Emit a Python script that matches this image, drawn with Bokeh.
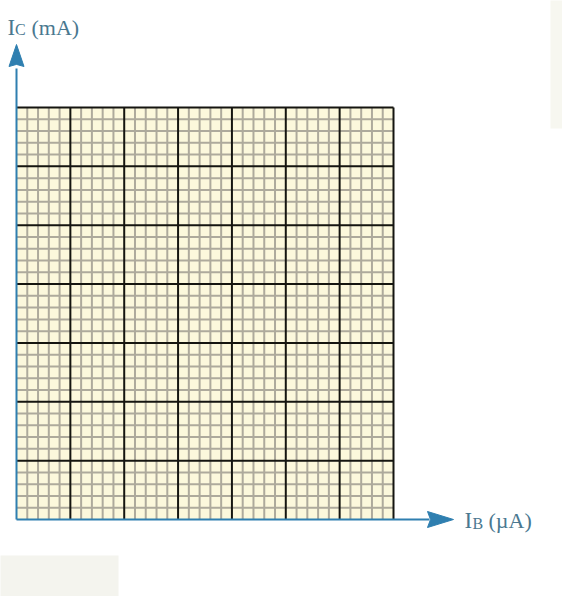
from bokeh.plotting import figure
from bokeh.models import Range1d
from bokeh.core.properties import value
from bokeh.embed import file_html
from bokeh.resources import INLINE

# ---- data: graph-paper grid (major divisions and minor subdivisions) ----
x_major = [0, 1, 2, 3, 4, 5, 6, 7]
y_major = [0, 1, 2, 3, 4, 5, 6, 7]
minor_per_major = 5
x_label_main = "I"
x_label_sub = "B"
x_label_unit = "(µA)"
y_label_main = "I"
y_label_sub = "C"
y_label_unit = "(mA)"

# ---- layout ----
FIG_W, FIG_H = 562, 596
MARGIN = 8
GL, GR, GT, GB = 16, 393, 107, 519        # grid box in figure pixels
xmin, xmax = x_major[0], x_major[-1]
ymin, ymax = y_major[0], y_major[-1]
xs = (GR - GL) / (xmax - xmin)
ys = (GB - GT) / (ymax - ymin)

x_range = Range1d(xmin - GL / xs, xmax + (FIG_W - GR) / xs)
y_range = Range1d(ymin - (FIG_H - GB) / ys, ymax + GT / ys)


def dx(page_x):
    return xmin + (page_x - MARGIN - GL) / xs


def dy(page_y):
    return ymin + (GB - (page_y - MARGIN)) / ys


p = figure(width=FIG_W, height=FIG_H, x_range=x_range, y_range=y_range,
           x_axis_type=None, y_axis_type=None, toolbar_location=None,
           output_backend="svg", min_border=0, outline_line_color=None,
           background_fill_color="white", border_fill_color="white")

# faint scan-artifact boxes of the original picture
p.quad(left=[dx(558), dx(0)], right=[dx(580), dx(126)],
       top=[dy(0), dy(563)], bottom=[dy(136), dy(614)],
       fill_color=["#f7f7f0", "#f4f4ee"], line_color=None)

# cream paper
p.quad(left=[xmin], right=[xmax], bottom=[ymin], top=[ymax],
       fill_color="#fcf8dc", line_color=None)

# minor lines
step = 1.0 / minor_per_major
minor_x = [xmin + i * step for i in range(1, (xmax - xmin) * minor_per_major)
           if i % minor_per_major]
minor_y = [ymin + i * step for i in range(1, (ymax - ymin) * minor_per_major)
           if i % minor_per_major]
p.segment(x0=minor_x, x1=minor_x, y0=[ymin] * len(minor_x), y1=[ymax] * len(minor_x),
          line_color="#aeaa9c", line_width=2)
p.segment(x0=[xmin] * len(minor_y), x1=[xmax] * len(minor_y), y0=minor_y, y1=minor_y,
          line_color="#aeaa9c", line_width=2)

# major lines
mx = x_major[1:]
my = y_major[1:]
p.segment(x0=mx, x1=mx, y0=[ymin] * len(mx), y1=[ymax] * len(mx),
          line_color="#151510", line_width=2)
p.segment(x0=[xmin] * len(my), x1=[xmax] * len(my), y0=my, y1=my,
          line_color="#151510", line_width=2)

BLUE = "#2f7fb0"
# axes lines
y_tip = dy(52)
y_head_base = dy(74)
x_tip = dx(461)
x_head_base = dx(435)
p.segment(x0=[xmin, xmin], x1=[xmin, x_head_base + 2 / xs],
          y0=[ymin, ymin], y1=[y_head_base - 2 / ys, ymin],
          line_color=BLUE, line_width=2)

# arrow heads
hw = 7.5 / xs
p.patch(x=[xmin, xmin - hw, xmin - 0.3 / xs, xmin + 0.3 / xs, xmin + hw],
        y=[y_tip, y_head_base, y_head_base + 2 / ys, y_head_base + 2 / ys, y_head_base],
        fill_color=BLUE, line_color=BLUE, line_width=1)
hh = 8 / ys
p.patch(x=[x_tip, x_head_base, x_head_base + 3 / xs, x_head_base],
        y=[ymin, ymin + hh, ymin, ymin - hh],
        fill_color=BLUE, line_color=BLUE, line_width=1)

TXT = "#4a7890"
FONT = value("Liberation Serif")
# y-axis label
p.text(x=[dx(15)], y=[dy(35)], text=[y_label_main], text_font=FONT,
       text_font_size="23px", text_color=TXT, text_baseline="alphabetic")
p.text(x=[dx(22.5)], y=[dy(36.5)], text=[y_label_sub], text_font=FONT,
       text_font_size="16px", text_color=TXT, text_baseline="alphabetic")
p.text(x=[dx(39)], y=[dy(35)], text=[y_label_unit], text_font=FONT,
       text_font_size="22px", text_color=TXT, text_baseline="alphabetic")
# x-axis label
p.text(x=[dx(472)], y=[dy(528)], text=[x_label_main], text_font=FONT,
       text_font_size="23px", text_color=TXT, text_baseline="alphabetic")
p.text(x=[dx(480)], y=[dy(530.5)], text=[x_label_sub], text_font=FONT,
       text_font_size="16px", text_color=TXT, text_baseline="alphabetic")
p.text(x=[dx(496)], y=[dy(528)], text=[x_label_unit], text_font=FONT,
       text_font_size="22px", text_color=TXT, text_baseline="alphabetic")

open("out.html", "w").write(file_html(p, INLINE))
